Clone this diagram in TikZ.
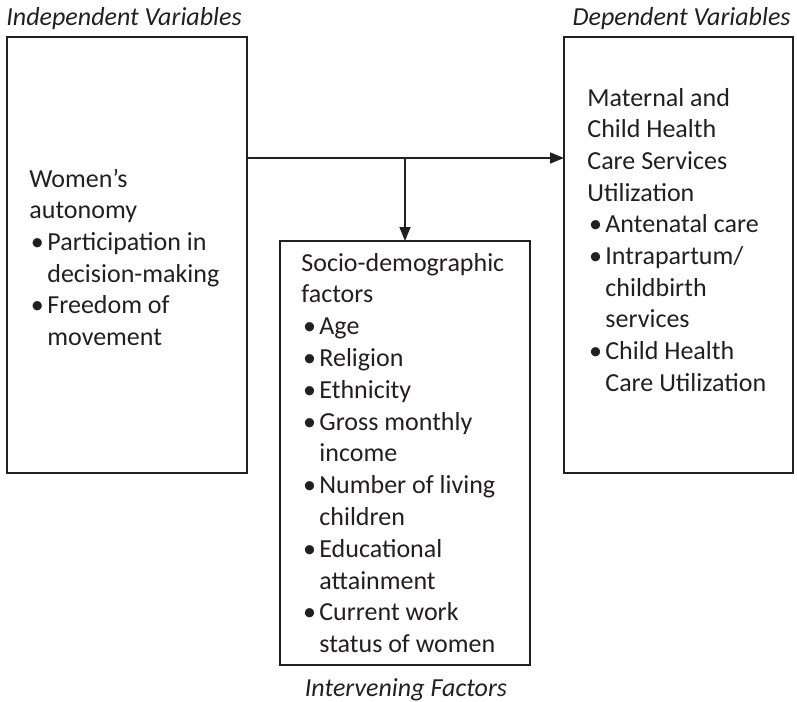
\documentclass[tikz,border=0pt]{standalone}
\usepackage{fontspec}
\setmainfont{Carlito}
\usetikzlibrary{arrows.meta}
\definecolor{ink}{HTML}{231F20}
\tikzset{
	box/.style={draw=ink, line width=1.2pt, inner sep=0pt, outer sep=0pt},
	txt/.style={anchor=base west, inner sep=0pt, text=ink, font=\fontsize{13}{15.8}\selectfont},
	ttl/.style={inner sep=0pt, text=ink, font=\fontsize{13}{15.8}\selectfont\itshape},
	flow/.style={draw=ink, line width=0.8pt, -{Triangle[length=7pt,width=5.5pt]}}
}
\newcommand{\bul}{\makebox[9pt][l]{\hspace{0.8pt}\textbullet}}
\newcommand{\cont}{\hspace*{9pt}}
\begin{document}
\begin{tikzpicture}[x=0.5pt, y=-0.5pt]
		\useasboundingbox (0,0) rectangle (797,701);

		\node[box, minimum width=120pt, minimum height=218pt] (indep) at (127,255) {};
		\node[box, minimum width=114.5pt, minimum height=218pt] (dep) at (678.5,255) {};
		\node[box, minimum width=125pt, minimum height=212pt] (interv) at (405,453) {};

		\node[ttl, anchor=base west] (indepttl) at (6,26) {Independent Variables};
		\node[ttl, anchor=base east] (depttl) at (791,26) {Dependent Variables};
		\node[ttl, anchor=base] (intervttl) at (406,696) {Intervening Factors};

		\coordinate (split) at (405,158);
		\draw[flow] (indep.east |- split) -- (dep.west |- split);
		\draw[flow] (split) -- (interv.north);

		\node[txt] (indep1) at (29,187) {Women’s};
		\node[txt] (indep2) at (29,218.7) {autonomy};
		\node[txt] (indep3) at (29,250.4) {\bul Participation in};
		\node[txt] (indep4) at (29,282.1) {\cont decision-making};
		\node[txt] (indep5) at (29,313.8) {\bul Freedom of};
		\node[txt] (indep6) at (29,345.5) {\cont movement};

		\node[txt] (dep1) at (587,106) {Maternal and};
		\node[txt] (dep2) at (587,137.7) {Child Health};
		\node[txt] (dep3) at (587,169.4) {Care Services};
		\node[txt] (dep4) at (587,201.1) {Utilization};
		\node[txt] (dep5) at (587,232.8) {\bul Antenatal care};
		\node[txt] (dep6) at (587,264.5) {\bul Intrapartum/};
		\node[txt] (dep7) at (587,296.2) {\cont childbirth};
		\node[txt] (dep8) at (587,327.9) {\cont services};
		\node[txt] (dep9) at (587,359.6) {\bul Child Health};
		\node[txt] (dep10) at (587,391.3) {\cont Care Utilization};

		\node[txt] (interv1) at (301,271) {Socio-demographic};
		\node[txt] (interv2) at (301,302.8) {factors};
		\node[txt] (interv3) at (301,334.6) {\bul Age};
		\node[txt] (interv4) at (301,366.4) {\bul Religion};
		\node[txt] (interv5) at (301,398.2) {\bul Ethnicity};
		\node[txt] (interv6) at (301,430) {\bul Gross monthly};
		\node[txt] (interv7) at (301,461.8) {\cont income};
		\node[txt] (interv8) at (301,493.6) {\bul Number of living};
		\node[txt] (interv9) at (301,525.4) {\cont children};
		\node[txt] (interv10) at (301,557.2) {\bul Educational};
		\node[txt] (interv11) at (301,589) {\cont attainment};
		\node[txt] (interv12) at (301,620.8) {\bul Current work};
		\node[txt] (interv13) at (301,652.6) {\cont status of women};

	\end{tikzpicture}
\end{document}
